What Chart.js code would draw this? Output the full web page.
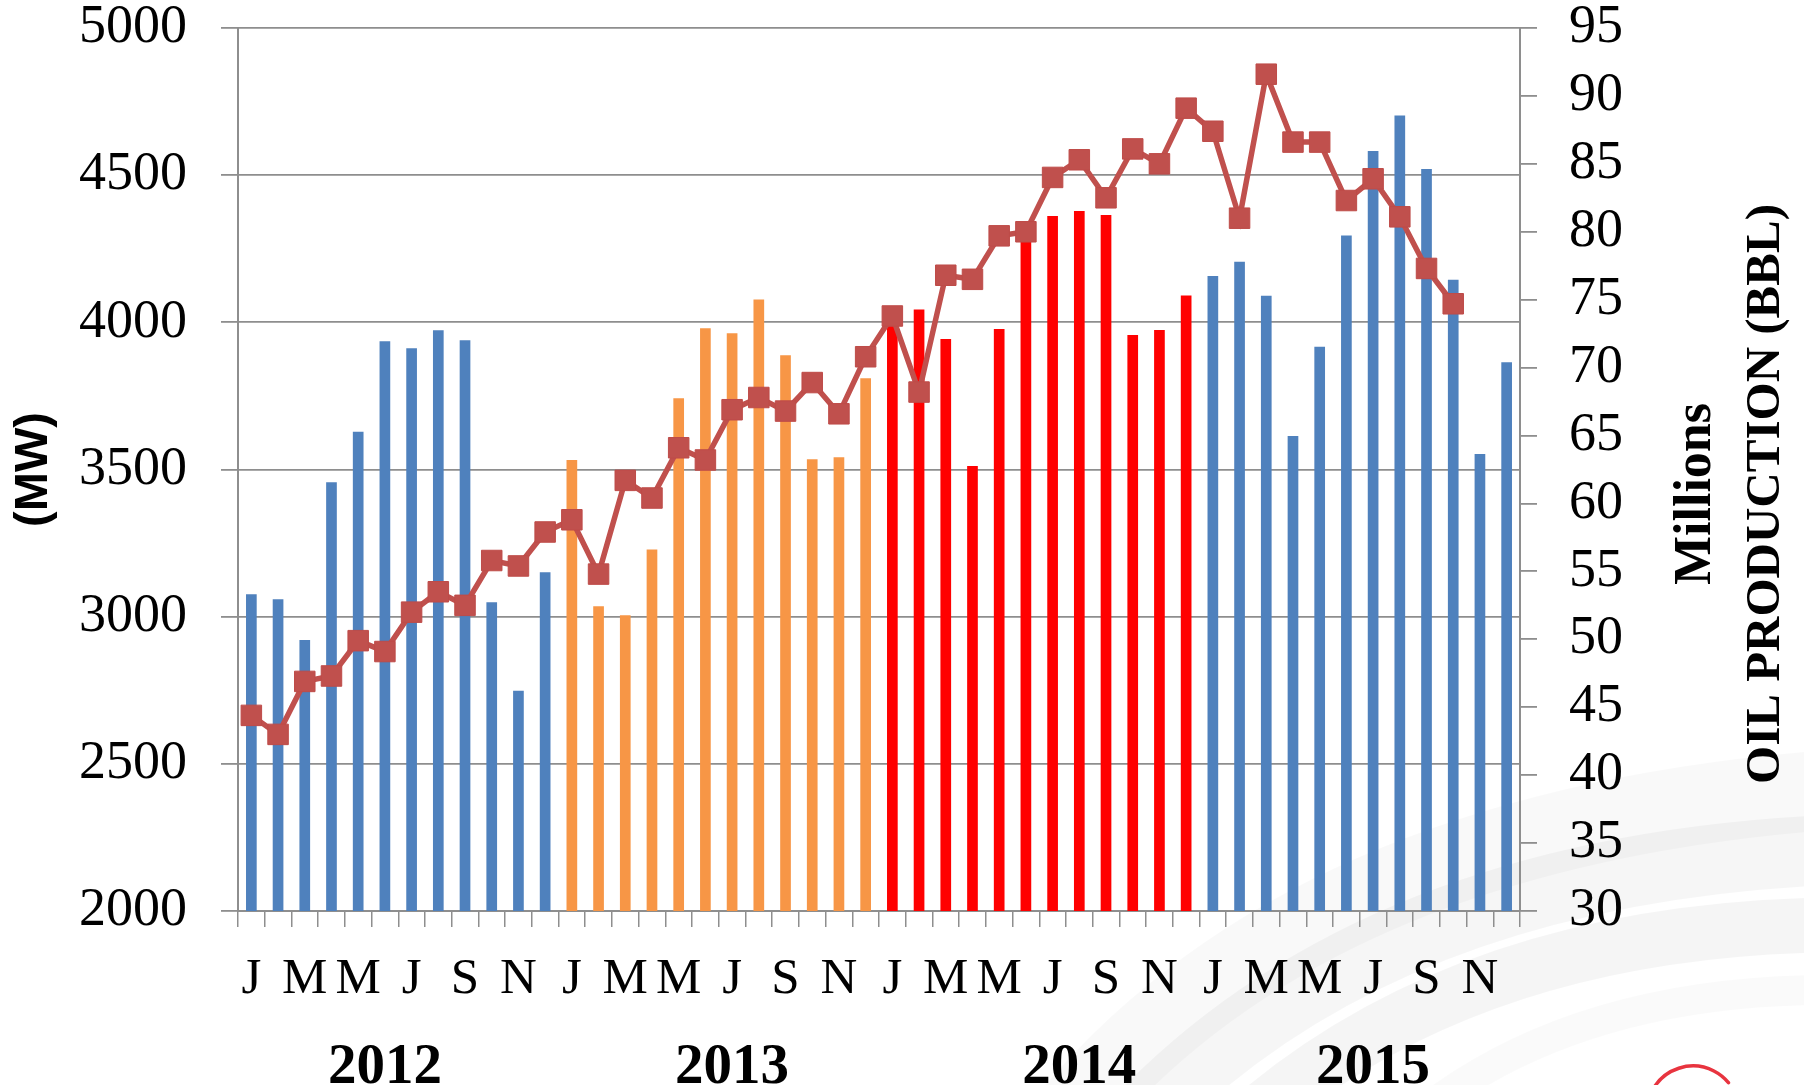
<!DOCTYPE html>
<html>
<head>
<meta charset="utf-8">
<script src="https://cdn.jsdelivr.net/npm/chart.js@4"></script>
<style>
  html, body { margin: 0; padding: 0; background: #fff; }
  canvas { display: block; }
</style>
</head>
<body>
<canvas id="chart" width="1804" height="1085"></canvas>
<script>
// --- data ---
var monthLetters = ['J', 'F', 'M', 'A', 'M', 'J', 'J', 'A', 'S', 'O', 'N', 'D'];
var years = ['2012', '2013', '2014', '2015'];
// month index (0..47) under which each year label sits
var yearLabelAt = [5, 18, 31, 42];

// demand (MW), left axis
var mw2012 = [3076, 3059, 2921, 3457, 3628, 3936, 3912, 3973, 3939, 3049, 2748, 3151];
var mw2013 = [3532, 3035, 3005, 3228, 3742, 3980, 3963, 4078, 3888, 3535, 3542, 3810];
var mw2014 = [4020, 4044, 3943, 3512, 3977, 4300, 4361, 4378, 4365, 3957, 3974, 4091];
var mw2015 = [4157, 4206, 4090, 3614, 3917, 4295, 4582, 4703, 4521, 4145, 3553, 3864];

// oil production (millions bbl), right axis
var oil2012 = [44.4, 43.0, 46.9, 47.3, 49.9, 49.1, 52.0, 53.5, 52.5, 55.8, 55.4, 57.9];
var oil2013 = [58.8, 54.8, 61.7, 60.4, 64.1, 63.2, 66.9, 67.8, 66.8, 68.9, 66.6, 70.8];
var oil2014 = [73.8, 68.2, 76.8, 76.5, 79.7, 80.0, 84.0, 85.3, 82.5, 86.1, 85.0, 89.1];
var oil2015 = [87.4, 81.0, 91.6, 86.6, 86.6, 82.3, 83.9, 81.1, 77.3, 74.7, null, null];

var yearColors = ['#4F81BD', '#F79646', '#FF0000', '#4F81BD'];

// --- build chart inputs ---
var labels = [];
var barColors = [];
years.forEach(function (y, i) {
  monthLetters.forEach(function (m) {
    labels.push(m);
    barColors.push(yearColors[i]);
  });
});
var mwValues = mw2012.concat(mw2013, mw2014, mw2015);
var oilValues = oil2012.concat(oil2013, oil2014, oil2015);

var serif = "'Liberation Serif', 'DejaVu Serif', serif";
var gridGray = '#8e8e8e';

// soft grey swooshes and logo arc in the bottom right corner
var backdrop = {
  id: 'backdrop',
  beforeDraw: function (chart) {
    var ctx = chart.ctx;
    ctx.save();
    ctx.fillStyle = '#fff';
    ctx.fillRect(0, 0, chart.width, chart.height);
    ctx.lineCap = 'round';
    var bands = [
      [1060, 1130, 1300, 830, 1830, 790, 80, 'rgba(0,0,0,0.025)'],
      [1140, 1120, 1380, 870, 1830, 850, 70, 'rgba(0,0,0,0.035)'],
      [1250, 1120, 1470, 930, 1830, 925, 55, 'rgba(0,0,0,0.04)'],
      [1400, 1130, 1560, 990, 1830, 990, 30, 'rgba(0,0,0,0.02)']
    ];
    bands.forEach(function (b) {
      ctx.beginPath();
      ctx.moveTo(b[0], b[1]);
      ctx.quadraticCurveTo(b[2], b[3], b[4], b[5]);
      ctx.lineWidth = b[6];
      ctx.strokeStyle = b[7];
      ctx.stroke();
    });
    ctx.beginPath();
    ctx.arc(1693, 1112, 46, Math.PI * 1.15, Math.PI * 1.78);
    ctx.lineWidth = 3.5;
    ctx.strokeStyle = '#e8343f';
    ctx.stroke();
    ctx.restore();
  }
};

// right axis titles read bottom-to-top
var rightTitles = {
  id: 'rightTitles',
  afterDraw: function (chart) {
    var s = chart.scales.y1;
    var ctx = chart.ctx;
    ctx.save();
    ctx.fillStyle = '#000';
    ctx.textAlign = 'center';
    ctx.textBaseline = 'middle';
    ctx.font = 'bold 52px ' + serif;
    ctx.translate(s.left + 177, 494);
    ctx.rotate(-Math.PI / 2);
    ctx.fillText('Millions', 0, 0);
    ctx.restore();
    ctx.save();
    ctx.fillStyle = '#000';
    ctx.textAlign = 'center';
    ctx.textBaseline = 'middle';
    ctx.font = 'bold 49px ' + serif;
    ctx.translate(s.left + 246, 494);
    ctx.rotate(-Math.PI / 2);
    ctx.fillText('OIL PRODUCTION (BBL)', 0, 0);
    ctx.restore();
  }
};

function noPad(s) {
  s.paddingTop = 0;
  s.paddingBottom = 0;
  s.paddingLeft = 0;
  s.paddingRight = 0;
}

new Chart(document.getElementById('chart'), {
  type: 'bar',
  data: {
    labels: labels,
    datasets: [
      {
        type: 'line',
        label: 'Oil production',
        data: oilValues,
        yAxisID: 'y1',
        xAxisID: 'x',
        order: 0,
        borderColor: '#C0504D',
        borderWidth: 5.5,
        pointStyle: 'rect',
        pointRadius: 14.5,
        pointBackgroundColor: '#C0504D',
        pointBorderColor: '#BE4B48',
        pointBorderWidth: 1,
        tension: 0
      },
      {
        type: 'bar',
        label: 'MW',
        data: mwValues,
        yAxisID: 'y',
        xAxisID: 'x',
        order: 1,
        backgroundColor: barColors,
        categoryPercentage: 1,
        barPercentage: 0.4
      }
    ]
  },
  options: {
    responsive: false,
    animation: false,
    layout: { padding: { top: 28, left: 0, right: 0, bottom: 0 } },
    plugins: {
      legend: { display: false },
      tooltip: { enabled: false }
    },
    scales: {
      x: {
        position: 'bottom',
        weight: 0,
        grid: {
          offset: true,
          drawOnChartArea: false,
          drawTicks: true,
          tickLength: 16,
          color: gridGray,
          lineWidth: 1.5
        },
        border: { color: gridGray, width: 2 },
        ticks: {
          autoSkip: false,
          maxRotation: 0,
          padding: 22,
          color: '#000',
          font: { family: serif, size: 51 },
          callback: function (v, i) { return i % 2 === 0 ? labels[i] : ''; }
        },
        afterFit: function (s) { s.height = 100; noPad(s); }
      },
      x2: {
        position: 'bottom',
        weight: 1,
        grid: { display: false, drawTicks: false },
        border: { display: false },
        ticks: {
          autoSkip: false,
          maxRotation: 0,
          padding: 23,
          color: '#000',
          font: { family: serif, size: 57, weight: 'bold' },
          callback: function (v, i) {
            var k = yearLabelAt.indexOf(i);
            return k >= 0 ? years[k] : '';
          }
        },
        afterFit: function (s) { s.height = 74; noPad(s); }
      },
      y: {
        position: 'left',
        min: 2000,
        max: 5000,
        grid: {
          color: gridGray,
          lineWidth: 1.8,
          tickLength: 17
        },
        border: { color: gridGray, width: 2 },
        ticks: {
          stepSize: 500,
          padding: 34,
          color: '#000',
          font: { family: serif, size: 54 },
          callback: function (v) { return String(v); }
        },
        title: {
          display: true,
          text: '(MW)',
          color: '#000',
          padding: { top: 6, bottom: 0 },
          font: { family: "'Liberation Sans', 'DejaVu Sans', sans-serif", size: 47, weight: 'bold' }
        },
        afterFit: function (s) { s.width = 238; noPad(s); }
      },
      y1: {
        position: 'right',
        min: 30,
        max: 95,
        grid: {
          drawOnChartArea: false,
          color: gridGray,
          lineWidth: 1.8,
          tickLength: 17
        },
        border: { color: gridGray, width: 2 },
        ticks: {
          stepSize: 5,
          padding: 32,
          color: '#000',
          font: { family: serif, size: 54 },
          callback: function (v) { return String(v); }
        },
        afterFit: function (s) { s.width = 284; noPad(s); }
      }
    }
  },
  plugins: [backdrop, rightTitles]
});
</script>
</body>
</html>
